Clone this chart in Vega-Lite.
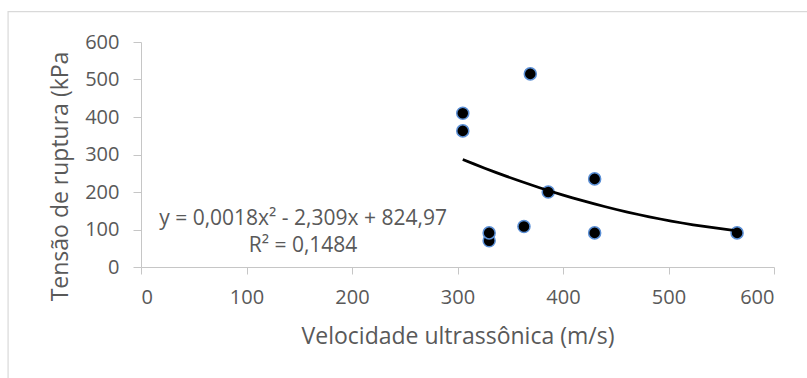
{
  "$schema": "https://vega.github.io/schema/vega-lite/v6.json",
  "width": 633,
  "height": 225,
  "autosize": {"type": "none"},
  "padding": {"left": 141, "top": 42, "right": 33, "bottom": 111},
  "background": "white",
  "config": {
    "view": {"stroke": null},
    "font": "Open Sans",
    "axis": {
      "grid": false,
      "labelOverlap": false,
      "domainColor": "#c6c6c6",
      "tickColor": "#c6c6c6",
      "labelFontSize": 20,
      "labelColor": "#595959",
      "titleFontSize": 23,
      "titleFontWeight": "normal",
      "titleColor": "#595959"
    },
    "axisX": {"tickSize": 7, "labelPadding": 13, "titleY": 76, "titleBaseline": "alphabetic"},
    "axisY": {"tickSize": 8, "labelPadding": 14, "titleAngle": 270, "titleAlign": "center", "titleBaseline": "alphabetic", "titleX": -74, "titleY": 134}
  },
  "data": {
    "values": [
      {"velocidade": 305, "tensao": 410},
      {"velocidade": 305, "tensao": 363},
      {"velocidade": 330, "tensao": 70},
      {"velocidade": 330, "tensao": 91},
      {"velocidade": 363, "tensao": 108},
      {"velocidade": 369, "tensao": 515},
      {"velocidade": 386, "tensao": 200},
      {"velocidade": 430, "tensao": 235},
      {"velocidade": 430, "tensao": 91},
      {"velocidade": 565, "tensao": 91}
    ]
  },
  "layer": [
    {
      "mark": {"type": "point", "filled": true, "shape": "circle", "fill": "black", "stroke": "#5b8fd5", "strokeWidth": 1.5, "size": 145, "opacity": 1},
      "encoding": {
        "x": {
          "field": "velocidade",
          "type": "quantitative",
          "scale": {"domain": [0, 600], "nice": false, "zero": false},
          "axis": {"title": "Velocidade ultrassônica (m/s)", "values": [0, 100, 200, 300, 400, 500, 600]}
        },
        "y": {
          "field": "tensao",
          "type": "quantitative",
          "scale": {"domain": [0, 600], "nice": false, "zero": false},
          "axis": {"title": "Tensão de ruptura (kPa", "values": [0, 100, 200, 300, 400, 500, 600]}
        }
      }
    },
    {
      "data": {"values": [{}]},
      "mark": {"type": "rect", "filled": false, "stroke": "#d9d9d9", "strokeWidth": 1.2},
      "encoding": {
        "x": {"datum": -126, "type": "quantitative", "axis": {"title": "Velocidade ultrassônica (m/s)", "values": [0, 100, 200, 300, 400, 500, 600]}},
        "x2": {"datum": 1500},
        "y": {"datum": 681, "type": "quantitative", "axis": {"title": "Tensão de ruptura (kPa", "values": [0, 100, 200, 300, 400, 500, 600]}},
        "y2": {"datum": -1500}
      }
    },
    {
      "transform": [{"regression": "tensao", "on": "velocidade", "method": "poly", "order": 2}],
      "mark": {"type": "line", "color": "black", "strokeWidth": 2.75},
      "encoding": {
        "x": {"field": "velocidade", "type": "quantitative", "axis": {"title": "Velocidade ultrassônica (m/s)", "values": [0, 100, 200, 300, 400, 500, 600]}},
        "y": {"field": "tensao", "type": "quantitative", "axis": {"title": "Tensão de ruptura (kPa", "values": [0, 100, 200, 300, 400, 500, 600]}}
      }
    },
    {
      "data": {"values": [{}]},
      "mark": {"type": "text", "fontSize": 21, "color": "#595959", "align": "center", "baseline": "alphabetic"},
      "encoding": {
        "x": {"datum": 153.6, "type": "quantitative", "axis": {"title": "Velocidade ultrassônica (m/s)", "values": [0, 100, 200, 300, 400, 500, 600]}},
        "y": {"datum": 112.8, "type": "quantitative", "axis": {"title": "Tensão de ruptura (kPa", "values": [0, 100, 200, 300, 400, 500, 600]}},
        "text": {"value": "y = 0,0018x² - 2,309x + 824,97"}
      }
    },
    {
      "data": {"values": [{}]},
      "mark": {"type": "text", "fontSize": 21, "color": "#595959", "align": "center", "baseline": "alphabetic"},
      "encoding": {
        "x": {"datum": 153.6, "type": "quantitative", "axis": {"title": "Velocidade ultrassônica (m/s)", "values": [0, 100, 200, 300, 400, 500, 600]}},
        "y": {"datum": 40.8, "type": "quantitative", "axis": {"title": "Tensão de ruptura (kPa", "values": [0, 100, 200, 300, 400, 500, 600]}},
        "text": {"value": "R² = 0,1484"}
      }
    }
  ]
}
